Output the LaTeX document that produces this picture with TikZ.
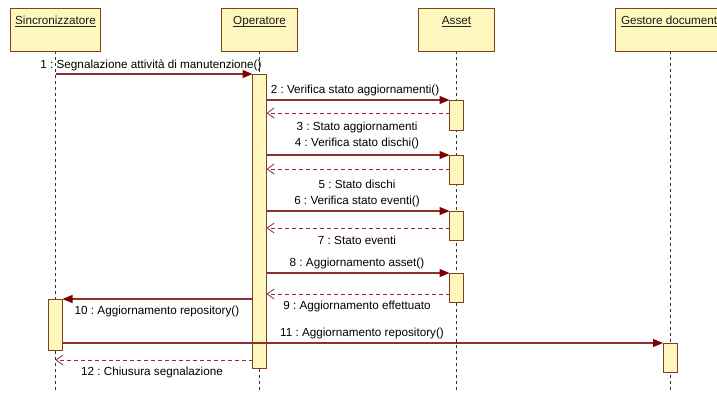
\documentclass[tikz,border=0pt]{standalone}
\usepackage{fontspec}
\setmainfont{Liberation Sans}
\usetikzlibrary{arrows.meta}
\definecolor{boxfill}{RGB}{255,248,190}
\definecolor{boxline}{RGB}{128,64,32}
\definecolor{msgline}{RGB}{140,48,48}
\definecolor{tipred}{RGB}{128,0,0}
\frenchspacing
\begin{document}
\begin{tikzpicture}[x=1pt,y=-1pt,
  every node/.style={inner sep=0pt, outer sep=0pt},
  font=\fontsize{11.7}{13}\selectfont,
  actorbox/.style={draw=boxline, fill=boxfill, line width=1pt, minimum height=43pt, anchor=north},
  actorname/.style={anchor=base, text=black!90},
  lifeline/.style={draw=black!80, line width=0.8pt, dash pattern=on 3pt off 3pt},
  actbar/.style={draw=boxline, fill=boxfill, line width=1pt, minimum width=14pt},
  msg/.style={draw=msgline, line width=1.1pt, -{Triangle[length=10pt,width=8pt,color=tipred]}},
  ret/.style={draw=msgline, line width=0.8pt, dash pattern=on 4pt off 3pt, -{Straight Barb[length=7pt,width=10pt,line width=0.8pt]}},
  msglabel/.style={anchor=center, text=black}
]
\useasboundingbox (0,0) rectangle (717,392);
\clip (0,0) rectangle (717,392);
\fill[white] (0,0) rectangle (717,392);

% participants
\node[actorbox, minimum width=90pt] (sinc) at (55.5,8) {};
\node[actorbox, minimum width=76pt] (oper) at (259.5,8) {};
\node[actorbox, minimum width=76pt] (asset) at (456.5,8) {};
\node[actorbox, minimum width=110pt] (gest) at (670,8) {};

\node[actorname] (tsinc) at (55.5,24.5) {Sincronizzatore};
\node[actorname] (toper) at (259.5,24.5) {Operatore};
\node[actorname] (tasset) at (456.5,24.5) {Asset};
\node[actorname, anchor=base west] (tgest) at (621,24.5) {Gestore document};
\foreach \t in {tsinc,toper,tasset,tgest}
  \draw[black!85, line width=0.6pt] ([yshift=-2pt]\t.base west) -- ([yshift=-2pt]\t.base east);

% lifelines
\foreach \p in {sinc,oper,asset,gest}
  \draw[lifeline] (\p.south) -- (\p.south |- 0,392);

% activation bars
\node[actbar, minimum height=294pt] (ob) at (259.5,221) {};
\node[actbar, minimum height=30pt] (ab1) at (456.5,115) {};
\node[actbar, minimum height=29pt] (ab2) at (456.5,169.5) {};
\node[actbar, minimum height=29pt] (ab3) at (456.5,225.5) {};
\node[actbar, minimum height=29pt] (ab4) at (456.5,287.5) {};
\node[actbar, minimum height=51pt] (sb) at (55.5,324.5) {};
\node[actbar, minimum height=29pt] (gb) at (670,357.5) {};

% message rows
\coordinate (y1) at (0,74);
\coordinate (y3) at (0,113);
\coordinate (y5) at (0,169);
\coordinate (y7) at (0,228);
\coordinate (y9) at (0,294);
\coordinate (y11) at (0,343);
\coordinate (y12) at (0,360);

% messages
\draw[msg] (sinc.south |- y1) -- (ob.north west);
\draw[msg] (ob.north east |- ab1.north) -- (ab1.north west);
\draw[ret] (ab1.west |- y3) -- (ob.east |- y3);
\draw[msg] (ob.east |- ab2.north) -- (ab2.north west);
\draw[ret] (ab2.west |- y5) -- (ob.east |- y5);
\draw[msg] (ob.east |- ab3.north) -- (ab3.north west);
\draw[ret] (ab3.west |- y7) -- (ob.east |- y7);
\draw[msg] (ob.east |- ab4.north) -- (ab4.north west);
\draw[ret] (ab4.west |- y9) -- (ob.east |- y9);
\draw[msg] (ob.west |- sb.north) -- (sb.north east);
\draw[msg] (sb.east |- y11) -- (gb.north west);
\draw[ret] (ob.west |- y12) -- (sinc.south |- y12);

% message labels
\node[msglabel] (l1) at (151,65) {1 : Segnalazione attività di manutenzione()};
\node[msglabel] (l2) at (355,90) {2 : Verifica stato aggiornamenti()};
\node[msglabel] (l3) at (357,127) {3 : Stato aggiornamenti};
\node[msglabel] (l4) at (357,143) {4 : Verifica stato dischi()};
\node[msglabel] (l5) at (357,184) {5 : Stato dischi};
\node[msglabel] (l6) at (357,201) {6 : Verifica stato eventi()};
\node[msglabel] (l7) at (357,240) {7 : Stato eventi};
\node[msglabel] (l8) at (357,263) {8 : Aggiornamento asset()};
\node[msglabel] (l9) at (357,306) {9 : Aggiornamento effettuato};
\node[msglabel] (l10) at (157,311) {10 : Aggiornamento repository()};
\node[msglabel] (l11) at (362,333) {11 : Aggiornamento repository()};
\node[msglabel] (l12) at (152,372) {12 : Chiusura segnalazione};
\end{tikzpicture}
\end{document}
